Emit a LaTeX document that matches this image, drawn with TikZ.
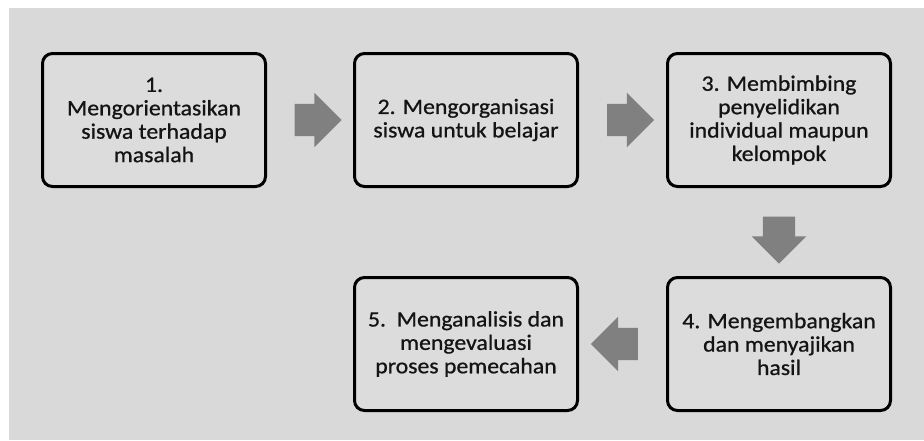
\documentclass[tikz,border=0pt]{standalone}
\usepackage{fontspec}
\setmainfont{Carlito}[FakeStretch=1.08,FakeBold=0.8]
\usetikzlibrary{shapes.arrows,calc}
\definecolor{bggray}{HTML}{D9D9D9}
\definecolor{boxgray}{HTML}{DCDCDC}
\definecolor{arrowgray}{HTML}{808080}
\definecolor{textdark}{HTML}{141414}
\begin{document}
\begin{tikzpicture}
  [x=1pt,y=-1pt,
   stepbox/.style={draw=black,line width=3pt,rounded corners=10pt,fill=boxgray,
     text=textdark,align=center,font=\fontsize{22}{23.4}\selectfont,
     minimum width=223pt,minimum height=133pt,inner sep=0pt},
   blockarrow/.style={single arrow,fill=arrowgray,draw=none,inner xsep=0pt,inner ysep=16pt,
     minimum height=47pt,single arrow head extend=11pt}]
\useasboundingbox[fill=white] (0,0) rectangle (924,440);
\fill[bggray] (9,8) rectangle (924,440);

\node (n1)[stepbox] at (154,120) {1.\\Mengorientasikan\\siswa terhadap\\masalah};
  \node (n2)[stepbox] at (466,120) {2. Mengorganisasi\\siswa untuk belajar};
  \node (n3)[stepbox] at (779,120) {3. Membimbing\\penyelidikan\\individual maupun\\kelompok};
  \node (n4)[stepbox] at (779,344) {4. Mengembangkan\\dan menyajikan\\hasil};
  \node (n5)[stepbox] at (466,344) {5.\ \ Menganalisis dan\\mengevaluasi\\proses pemecahan};

 \node (a12)[blockarrow] at ($(n1.east)!0.5!(n2.west)$) {};
 \node (a23)[blockarrow] at ($(n2.east)!0.5!(n3.west)$) {};
 \node (a34)[blockarrow,inner xsep=16pt,inner ysep=0pt,shape border rotate=270] at ($(n3.south)!0.5!(n4.north)$) {};
 \node (a45)[blockarrow,shape border rotate=180] at ($(n4.west)!0.5!(n5.east)$) {};
\end{tikzpicture}
\end{document}
